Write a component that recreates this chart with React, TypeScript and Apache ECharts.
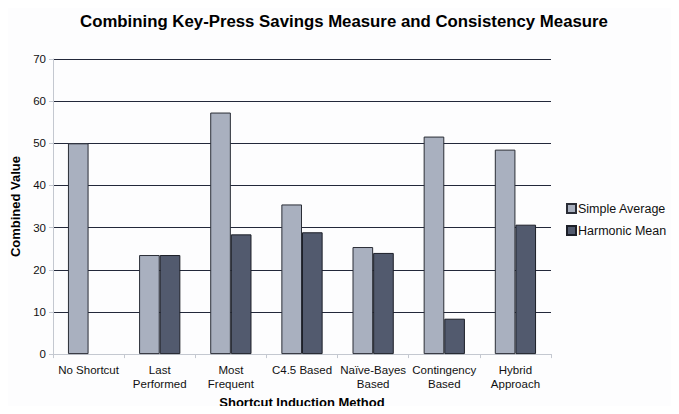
import React, { useEffect, useRef } from "react";
import * as echarts from "echarts";

const categories = [
  "No Shortcut",
  "Last\nPerformed",
  "Most\nFrequent",
  "C4.5 Based",
  "Naïve-Bayes\nBased",
  "Contingency\nBased",
  "Hybrid\nApproach",
];
const simpleAverage = [50.0, 23.5, 57.3, 35.5, 25.4, 51.6, 48.5];
const harmonicMean = [null, 23.5, 28.4, 28.9, 24.0, 8.4, 30.7];
const seriesNames = ["Simple Average", "Harmonic Mean"];

export default function App() {
  const ref = useRef<HTMLDivElement>(null);
  useEffect(() => {
    if (!ref.current) return;
    const chart = echarts.init(ref.current, null, { renderer: "svg" });
    const font = "Liberation Sans, Arial, sans-serif";
    chart.setOption({
      animation: false,
      backgroundColor: "#fdfdfe",
      textStyle: { fontFamily: font },
      title: {
        text: "Combining Key-Press Savings Measure and Consistency Measure",
        left: 339,
        textAlign: "center",
        top: 8,
        textStyle: { fontFamily: font, fontSize: 16.8, fontWeight: "bold", color: "#000" },
      },
      legend: {
        orient: "vertical",
        left: 561,
        top: 197,
        itemWidth: 9,
        itemHeight: 9,
        itemGap: 9,
        icon: "rect",
        textStyle: { fontFamily: font, fontSize: 12.5, color: "#111", padding: [0, 0, 0, -3] },
        data: seriesNames,
      },
      grid: { left: 53, right: 128, top: 59, bottom: 59, containLabel: false },
      xAxis: {
        type: "category",
        data: categories,
        name: "Shortcut Induction Method",
        nameLocation: "middle",
        nameGap: 40,
        nameTextStyle: { fontFamily: font, fontSize: 13, fontWeight: "bold", color: "#000" },
        axisLine: { lineStyle: { color: "#c4c8d0", width: 1 } },
        axisTick: { show: true, length: 4, lineStyle: { color: "#c4c8d0" } },
        axisLabel: { fontFamily: font, fontSize: 11.5, color: "#111", margin: 9, lineHeight: 14, interval: 0 },
      },
      yAxis: {
        type: "value",
        min: 0,
        max: 70,
        interval: 10,
        name: "Combined Value",
        nameLocation: "middle",
        nameGap: 31,
        nameTextStyle: { fontFamily: font, fontSize: 13, fontWeight: "bold", color: "#000" },
        axisLine: { show: true, lineStyle: { color: "#c4c8d0", width: 1 } },
        axisTick: { show: true, length: 4, lineStyle: { color: "#c4c8d0" } },
        axisLabel: { fontFamily: font, fontSize: 11.5, color: "#111", margin: 7 },
        splitLine: { show: true, lineStyle: { color: "#23283a", width: 1 } },
      },
      series: [
        {
          name: seriesNames[0],
          type: "bar",
          data: simpleAverage,
          barGap: "0%",
          barCategoryGap: "42%",
          itemStyle: { color: "#a9b0bf", borderColor: "#2a2d36", borderWidth: 1 },
        },
        {
          name: seriesNames[1],
          type: "bar",
          data: harmonicMean,
          itemStyle: { color: "#525a6e", borderColor: "#1c1f28", borderWidth: 1 },
        },
      ],
    });
    return () => chart.dispose();
  }, []);
  return <div ref={ref} style={{ width: 679, height: 414, margin: -8 }} />;
}
